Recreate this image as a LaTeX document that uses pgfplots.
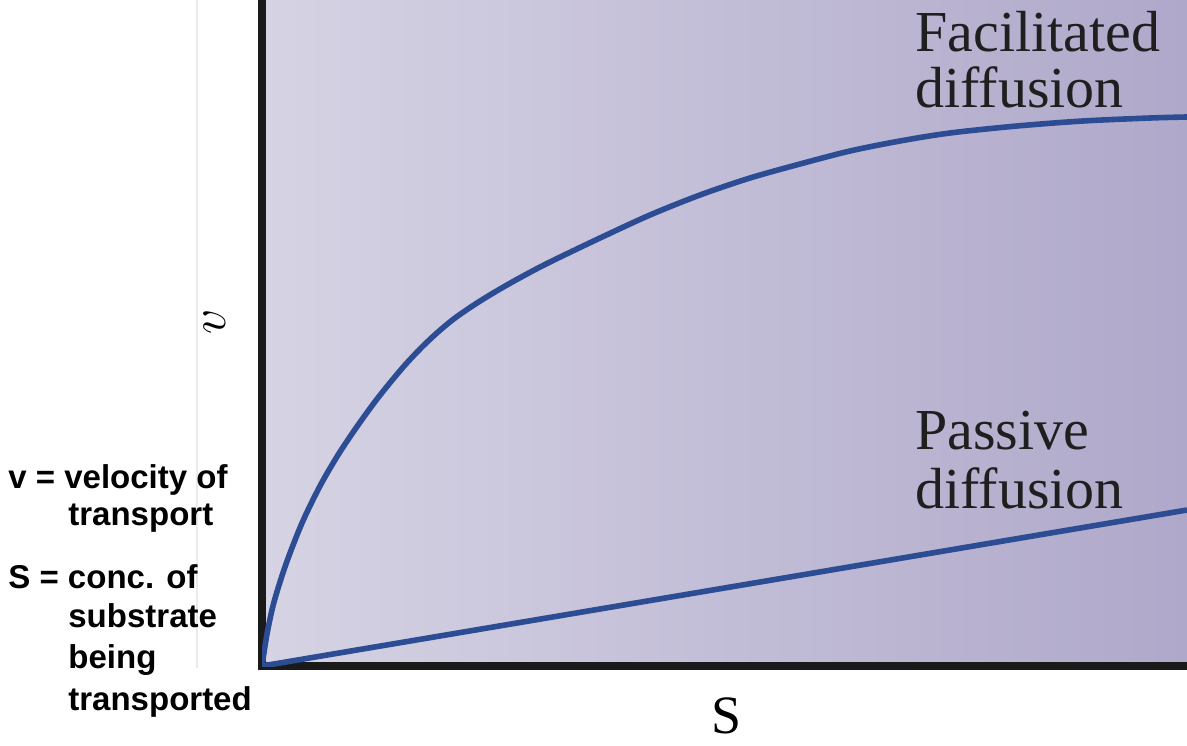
\documentclass[border=0pt]{standalone}
\usepackage{pgfplots}
\pgfplotsset{compat=1.18}
\usepackage{fontspec}
\setmainfont{Liberation Serif}
\newfontfamily\arialfont{Liberation Sans}
\definecolor{curveblue}{RGB}{44,76,147}
\definecolor{bgleft}{RGB}{214,211,228}
\definecolor{bgright}{RGB}{175,168,202}
\definecolor{axisblack}{RGB}{26,26,26}
\begin{document}
\begin{tikzpicture}[x=1pt,y=1pt]
\useasboundingbox (0,0) rectangle (593.5,372.5);
\fill[white] (0,0) rectangle (593.5,372.5);
\draw[black!8, line width=0.6pt] (98.5,38.5) -- (98.5,372.5);
\begin{axis}[
  at={(131pt,39.5pt)}, anchor=south west,
  scale only axis, width=462.5pt, height=333pt,
  xmin=0, xmax=925, ymin=0, ymax=666,
  axis x line*=bottom, axis y line*=left,
  axis line style={-, line width=4pt, axisblack, line cap=rect},
  xtick=\empty, ytick=\empty,
  axis background/.style={left color=bgleft, right color=bgright},
  clip=true,
]
\addplot[curveblue, line width=2.8pt, smooth] coordinates {
(0,0) (5,32) (12,64) (24,102) (40,143) (58,180) (76,211) (94,238) (112,263)
(127,282) (143,301) (160,319) (176,334) (193,348) (215,363) (238,377)
(263,391) (288,404) (338,428)
(388,451) (438,471) (488,488) (538,502) (588,515) (638,525) (688,533)
(755,540) (821,545) (888,548) (925,549)};
\addplot[curveblue, line width=2.8pt] coordinates {(0,0) (925,156)};
\node[anchor=base west, inner sep=0pt, font=\fontsize{29}{29}\selectfont, text=black!88] at (axis cs:653,614) {Facilitated};
\node[anchor=base west, inner sep=0pt, font=\fontsize{29}{29}\selectfont, text=black!88] at (axis cs:653,558) {diffusion};
\node[anchor=base west, inner sep=0pt, font=\fontsize{29}{29}\selectfont, text=black!88] at (axis cs:653,217) {Passive};
\node[anchor=base west, inner sep=0pt, font=\fontsize{29}{29}\selectfont, text=black!88] at (axis cs:653,158) {diffusion};
\end{axis}
\node[rotate=90, inner sep=0pt, font=\fontsize{27}{27}\selectfont] at (107.5,211.5) {$v$};
\node[anchor=base, inner sep=0pt, font=\fontsize{27}{27}\selectfont] at (363.5,6) {S};
\begin{scope}[every node/.style={anchor=base west, inner sep=0pt, font=\arialfont\bfseries\fontsize{16.5}{16.5}\selectfont}]
\node at (4,128.5) {v = velocity of};
\node at (34,110) {transport};
\node at (4,78.5) {S = conc. of};
\node at (34,59) {substrate};
\node at (34,38.5) {being};
\node at (34,17.5) {transported};
\end{scope}
\end{tikzpicture}
\end{document}
